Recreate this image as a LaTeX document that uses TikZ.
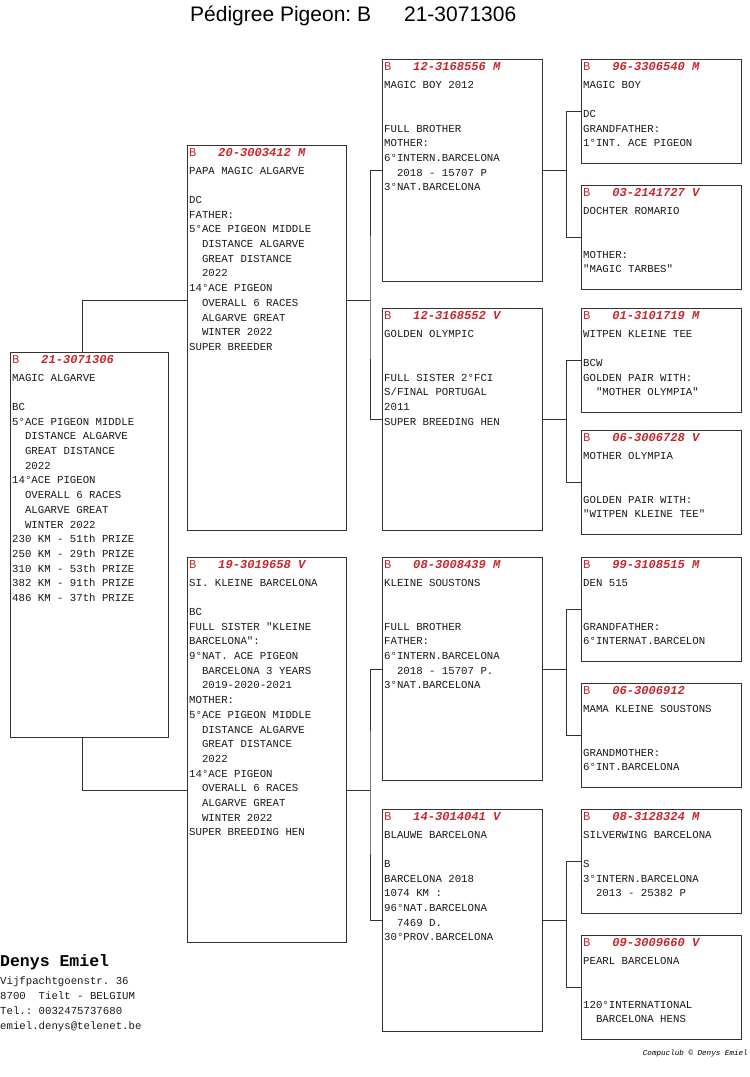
\documentclass[tikz,border=0pt]{standalone}
\usepackage{fontspec}
\setmainfont{Liberation Serif}
\setsansfont{Liberation Sans}
\setmonofont{Liberation Mono}
\definecolor{hdr}{HTML}{C8282D}
\definecolor{edge}{HTML}{333333}
\definecolor{ink}{HTML}{1A1A1A}
\frenchspacing
\newcommand\hd[1]{{\fontsize{12.1}{14.7}\selectfont\color{hdr}B\ \ \ \textbf{\textit{#1}}}}
\newcommand\ii{\mbox{\ \ }}
\newcommand\bx[1]{\parbox[t]{156pt}{\raggedright\ttfamily\frenchspacing\fontsize{10.7}{14.7}\selectfont\leavevmode\color{ink}#1}}
\tikzset{
  pbox/.style={draw=edge, line width=0.9pt, fill=white, inner sep=0pt, anchor=north west},
  ptxt/.style={anchor=base west, inner sep=0pt},
  link/.style={draw=edge, line width=0.9pt},
}
\newcommand\pbx[6]{%
  \node[pbox, minimum width=#4pt, minimum height=#5pt] (#1) at (#2,#3) {};
  \node[ptxt] (#1-t) at ([shift={(2,11)}]#1.north west) {\bx{#6}};
}
\begin{document}
\begin{tikzpicture}[x=1pt,y=-1pt]
\fill[white] (0,0) rectangle (750,1077);
\useasboundingbox (0,0) rectangle (750,1077);

\node[anchor=west, inner sep=0pt, font=\fontsize{21}{25}\selectfont\sffamily] (title) at (190,16) {Pédigree Pigeon: B\hspace{33pt}21-3071306};

% generation 1
\pbx{s}{10}{352}{158}{385}{\hd{21-3071306}\\[3.3pt]
MAGIC ALGARVE\\ \mbox{}\\ BC\\
5°ACE PIGEON MIDDLE\\ \ii DISTANCE ALGARVE\\ \ii GREAT DISTANCE\\ \ii 2022\\
14°ACE PIGEON\\ \ii OVERALL 6 RACES\\ \ii ALGARVE GREAT\\ \ii WINTER 2022\\
230 KM - 51th PRIZE\\ 250 KM - 29th PRIZE\\ 310 KM - 53th PRIZE\\ 382 KM - 91th PRIZE\\ 486 KM - 37th PRIZE}

% generation 2
\pbx{f}{187}{145}{159}{385}{\hd{20-3003412 M}\\[3.3pt]
PAPA MAGIC ALGARVE\\ \mbox{}\\ DC\\ FATHER:\\
5°ACE PIGEON MIDDLE\\ \ii DISTANCE ALGARVE\\ \ii GREAT DISTANCE\\ \ii 2022\\
14°ACE PIGEON\\ \ii OVERALL 6 RACES\\ \ii ALGARVE GREAT\\ \ii WINTER 2022\\
SUPER BREEDER}
\pbx{m}{187}{557}{159}{385}{\hd{19-3019658 V}\\[3.3pt]
SI. KLEINE BARCELONA\\ \mbox{}\\ BC\\ FULL SISTER "KLEINE\\ BARCELONA":\\
9°NAT. ACE PIGEON\\ \ii BARCELONA 3 YEARS\\ \ii 2019-2020-2021\\ MOTHER:\\
5°ACE PIGEON MIDDLE\\ \ii DISTANCE ALGARVE\\ \ii GREAT DISTANCE\\ \ii 2022\\
14°ACE PIGEON\\ \ii OVERALL 6 RACES\\ \ii ALGARVE GREAT\\ \ii WINTER 2022\\
SUPER BREEDING HEN}

% generation 3
\pbx{ff}{382}{59}{160}{222}{\hd{12-3168556 M}\\[3.3pt]
MAGIC BOY 2012\\ \mbox{}\\ \mbox{}\\ FULL BROTHER\\ MOTHER:\\ 6°INTERN.BARCELONA\\ \ii 2018 - 15707 P\\ 3°NAT.BARCELONA}
\pbx{fm}{382}{308}{160}{222}{\hd{12-3168552 V}\\[3.3pt]
GOLDEN OLYMPIC\\ \mbox{}\\ \mbox{}\\ FULL SISTER 2°FCI\\ S/FINAL PORTUGAL\\ 2011\\ SUPER BREEDING HEN}
\pbx{mf}{382}{557}{160}{223}{\hd{08-3008439 M}\\[3.3pt]
KLEINE SOUSTONS\\ \mbox{}\\ \mbox{}\\ FULL BROTHER\\ FATHER:\\ 6°INTERN.BARCELONA\\ \ii 2018 - 15707 P.\\ 3°NAT.BARCELONA}
\pbx{mm}{382}{809}{160}{222}{\hd{14-3014041 V}\\[3.3pt]
BLAUWE BARCELONA\\ \mbox{}\\ B\\ BARCELONA 2018\\ 1074 KM :\\ 96°NAT.BARCELONA\\ \ii 7469 D.\\ 30°PROV.BARCELONA}

% generation 4
\pbx{g1}{581}{59}{160}{104}{\hd{96-3306540 M}\\[3.3pt]
MAGIC BOY\\ \mbox{}\\ DC\\ GRANDFATHER:\\ 1°INT. ACE PIGEON}
\pbx{g2}{581}{185}{160}{104}{\hd{03-2141727 V}\\[3.3pt]
DOCHTER ROMARIO\\ \mbox{}\\ \mbox{}\\ MOTHER:\\ "MAGIC TARBES"}
\pbx{g3}{581}{308}{160}{104}{\hd{01-3101719 M}\\[3.3pt]
WITPEN KLEINE TEE\\ \mbox{}\\ BCW\\ GOLDEN PAIR WITH:\\ \ii "MOTHER OLYMPIA"}
\pbx{g4}{581}{430}{160}{104}{\hd{06-3006728 V}\\[3.3pt]
MOTHER OLYMPIA\\ \mbox{}\\ \mbox{}\\ GOLDEN PAIR WITH:\\ "WITPEN KLEINE TEE"}
\pbx{g5}{581}{557}{160}{104}{\hd{99-3108515 M}\\[3.3pt]
DEN 515\\ \mbox{}\\ \mbox{}\\ GRANDFATHER:\\ 6°INTERNAT.BARCELON}
\pbx{g6}{581}{683}{160}{104}{\hd{06-3006912}\\[3.3pt]
MAMA KLEINE SOUSTONS\\ \mbox{}\\ \mbox{}\\ GRANDMOTHER:\\ 6°INT.BARCELONA}
\pbx{g7}{581}{809}{160}{104}{\hd{08-3128324 M}\\[3.3pt]
SILVERWING BARCELONA\\ \mbox{}\\ S\\ 3°INTERN.BARCELONA\\ \ii 2013 - 25382 P}
\pbx{g8}{581}{935}{160}{104}{\hd{09-3009660 V}\\[3.3pt]
PEARL BARCELONA\\ \mbox{}\\ \mbox{}\\ 120°INTERNATIONAL\\ \ii BARCELONA HENS}

% connectors gen1 -> gen2
\coordinate (j1) at (82,300);
\coordinate (j2) at (82,790);
\draw[link] (s.north -| j1) -- (j1) -- (f.west |- j1);
\draw[link] (s.south -| j1) -- (j2) -- (m.west |- j2);

% gen2 -> gen3
\coordinate (k1) at (370,300);
\coordinate (k2) at (370,790);
\draw[link] (f.east |- k1) -- (k1);
\draw[link] (ff.west) -| (k1) |- (fm.west);
\draw[link] (m.east |- k2) -- (k2);
\draw[link] (mf.west) -| (k2) |- (mm.west);

% gen3 -> gen4
\draw[link] (ff.east) -- ++(24,0) coordinate (c1);
\draw[link] (g1.west) -| (c1) |- (g2.west);
\draw[link] (fm.east) -- ++(24,0) coordinate (c2);
\draw[link] (g3.west) -| (c2) |- (g4.west);
\draw[link] (mf.east) -- ++(24,0) coordinate (c3);
\draw[link] (g5.west) -| (c3) |- (g6.west);
\draw[link] (mm.east) -- ++(24,0) coordinate (c4);
\draw[link] (g7.west) -| (c4) |- (g8.west);

% footer
\node[anchor=base west, inner sep=0pt, font=\fontsize{16.5}{18}\selectfont\ttfamily\bfseries] (owner) at (0,966) {Denys Emiel};
\node[ptxt] (addr) at (0,984) {\parbox[t]{200pt}{\raggedright\ttfamily\fontsize{10.7}{15.3}\selectfont\leavevmode\color{ink}Vijfpachtgoenstr. 36\\ 8700\ \ Tielt - BELGIUM\\ Tel.: 0032475737680\\ emiel.denys@telenet.be}};
\node[anchor=base east, inner sep=0pt, font=\fontsize{7.6}{9}\selectfont\ttfamily\itshape] (copy) at (748,1055) {Compuclub © Denys Emiel};
\end{tikzpicture}
\end{document}
